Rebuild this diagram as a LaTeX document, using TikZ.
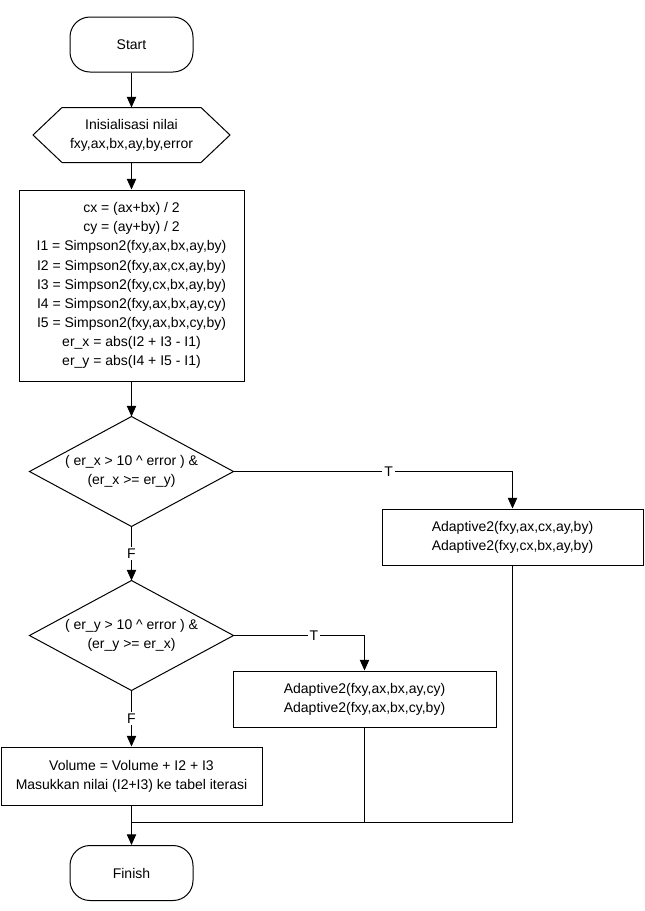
\documentclass[tikz,border=0pt]{standalone}
\usepackage{fontspec}
\setmainfont{Liberation Sans}
\usetikzlibrary{arrows.meta}

\begin{document}
\begin{tikzpicture}[
    x=0.75pt, y=-0.75pt, line width=0.75pt,
    font=\fontsize{10.5}{14.3}\selectfont,
    term/.style={draw, rounded corners=15pt, minimum width=92.25pt,
                 minimum height=41.25pt, inner sep=0pt},
    prep/.style={align=center, inner sep=0pt, minimum width=147pt,
                 minimum height=40.5pt},
    blk/.style={draw, align=center, inner sep=0pt},
    dec/.style={align=center, inner sep=0pt, minimum width=152.25pt,
                minimum height=81.75pt},
    sig/.style={-{Triangle[length=8pt, width=7pt]}, line width=0.75pt},
    lbl/.style={fill=white, inner sep=1.5pt},
]
\useasboundingbox (0,0) rectangle (645,911);

% ===================== Start =====================
\node[term] (start) at (131.5,44.5) {Start};

% ===================== Inisialisasi =====================
\node[prep] (init) at (131.5,135) {Inisialisasi nilai\\fxy,ax,bx,ay,by,error};
\draw ([xshift=21.75pt]init.north west) -- ([xshift=-21.75pt]init.north east)
      -- (init.east) -- ([xshift=-21.75pt]init.south east)
      -- ([xshift=21.75pt]init.south west) -- (init.west) -- cycle;

% ===================== Hitung Simpson =====================
\node[blk, minimum width=168.75pt, minimum height=143.25pt] (hitung) at (131.5,285.5)
      {cx = (ax+bx) / 2\\
       cy = (ay+by) / 2\\
       I1 = Simpson2(fxy,ax,bx,ay,by)\\
       I2 = Simpson2(fxy,ax,cx,ay,by)\\
       I3 = Simpson2(fxy,cx,bx,ay,by)\\
       I4 = Simpson2(fxy,ax,bx,ay,cy)\\
       I5 = Simpson2(fxy,ax,bx,cy,by)\\
       er\_x = abs(I2 + I3 - I1)\\
       er\_y = abs(I4 + I5 - I1)};

% ===================== Keputusan er_x =====================
\node[dec] (cekx) at (131.5,471.5)
      {( er\_x > 10 \textasciicircum{} error ) \&\\(er\_x >= er\_y)};
\draw (cekx.north) -- (cekx.east) -- (cekx.south) -- (cekx.west) -- cycle;

\node[blk, minimum width=195.75pt, minimum height=42pt] (adx) at (512.5,537)
      {Adaptive2(fxy,ax,cx,ay,by)\\Adaptive2(fxy,cx,bx,ay,by)};

% ===================== Keputusan er_y =====================
\node[dec] (ceky) at (131.5,635.5)
      {( er\_y > 10 \textasciicircum{} error ) \&\\(er\_y >= er\_x)};
\draw (ceky.north) -- (ceky.east) -- (ceky.south) -- (ceky.west) -- cycle;

\node[blk, minimum width=197.25pt, minimum height=42pt] (ady) at (364.5,699)
      {Adaptive2(fxy,ax,bx,ay,cy)\\Adaptive2(fxy,ax,bx,cy,by)};

% ===================== Volume =====================
\node[blk, minimum width=195.75pt, minimum height=43.5pt] (vol) at (131.5,776)
      {Volume = Volume + I2 + I3\\Masukkan nilai (I2+I3) ke tabel iterasi};

% ===================== Finish =====================
\node[term] (finish) at (131.5,873) {Finish};
\coordinate (gabung) at (131.5,822);

% ===================== Garis alur =====================
\draw[sig] (start) -- (init);
\draw[sig] (init) -- (hitung);
\draw[sig] (hitung) -- (cekx);
\draw[sig] (cekx.east) -| node[lbl, pos=0.278] {T} (adx.north);
\draw[sig] (cekx.south) -- node[lbl] {F} (ceky.north);
\draw[sig] (ceky.east) -| node[lbl, pos=0.307] {T} (ady.north);
\draw[sig] (ceky.south) -- node[lbl] {F} (vol.north);
\draw[sig] (vol) -- (finish);
\draw (adx.south) |- (gabung);
\draw (ady.south) -- (ady.south |- gabung);

\end{tikzpicture}
\end{document}
